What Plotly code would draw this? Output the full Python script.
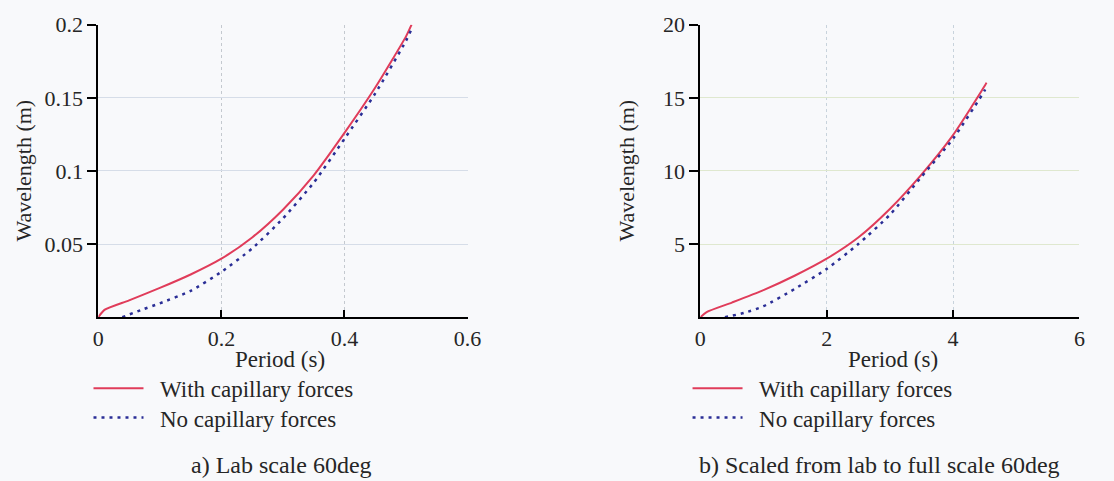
import plotly.graph_objects as go

# ---- Data ----
# a) Lab scale
lab_period_cap = [0.0, 0.01, 0.05, 0.10, 0.15, 0.20, 0.25, 0.30, 0.35, 0.40, 0.45, 0.50, 0.509]
lab_wl_cap = [0.0, 0.005, 0.0115, 0.0200, 0.0292, 0.040, 0.0545, 0.0735, 0.097, 0.126, 0.157, 0.192, 0.200]
lab_period_nocap = [0.039, 0.07, 0.10, 0.15, 0.20, 0.25, 0.30, 0.35, 0.40, 0.45, 0.50, 0.509]
lab_wl_nocap = [0.0, 0.005, 0.0095, 0.018, 0.031, 0.047, 0.0675, 0.092, 0.122, 0.153, 0.189, 0.197]

# b) Scaled to full scale
full_period_cap = [0.0, 0.1, 0.5, 1.0, 1.5, 2.0, 2.5, 3.0, 3.5, 4.0, 4.5, 4.53]
full_wl_cap = [0.0, 0.35, 1.0, 1.85, 2.85, 4.0, 5.45, 7.4, 9.75, 12.45, 15.8, 16.04]
full_period_nocap = [0.39, 0.7, 1.0, 1.5, 2.0, 2.5, 3.0, 3.5, 4.0, 4.5, 4.53]
full_wl_nocap = [0.0, 0.3, 0.75, 1.95, 3.3, 5.0, 7.0, 9.6, 12.2, 15.5, 15.8]

lab_xticks = [0, 0.2, 0.4, 0.6]
lab_xtext = ["0", "0.2", "0.4", "0.6"]
lab_yticks = [0.05, 0.1, 0.15, 0.2]
lab_ytext = ["0.05", "0.1", "0.15", "0.2"]
full_xticks = [0, 2, 4, 6]
full_xtext = ["0", "2", "4", "6"]
full_yticks = [5, 10, 15, 20]
full_ytext = ["5", "10", "15", "20"]

names = ["With capillary forces", "No capillary forces"]
captions = ["a) Lab scale 60deg", "b) Scaled from lab to full scale 60deg"]
x_title = "Period (s)"
y_title = "Wavelength (m)"

RED = "#e03c5a"
BLUE = "#2a2e96"
FONT = "Liberation Serif"
TXT = "#262626"
BG = "#f8f9fb"

W, H = 1114, 481

def px_x(p):
    return p / W

def px_y(p):
    return 1 - p / H

PAD = "\u00a0\u00a0"

fig = go.Figure()

fig.add_trace(go.Scatter(x=lab_period_cap, y=lab_wl_cap, mode="lines", name=PAD + names[0],
                         line=dict(color=RED, width=2, shape="spline", smoothing=0.6),
                         xaxis="x", yaxis="y", legend="legend"))
fig.add_trace(go.Scatter(x=lab_period_nocap, y=lab_wl_nocap, mode="lines", name=PAD + names[1],
                         line=dict(color=BLUE, width=2.5, dash="3px,5px", shape="spline", smoothing=0.6),
                         xaxis="x", yaxis="y", legend="legend2"))
fig.add_trace(go.Scatter(x=full_period_cap, y=full_wl_cap, mode="lines", name=PAD + names[0],
                         line=dict(color=RED, width=2, shape="spline", smoothing=0.6),
                         xaxis="x2", yaxis="y2", legend="legend3"))
fig.add_trace(go.Scatter(x=full_period_nocap, y=full_wl_nocap, mode="lines", name=PAD + names[1],
                         line=dict(color=BLUE, width=2.5, dash="3px,5px", shape="spline", smoothing=0.6),
                         xaxis="x2", yaxis="y2", legend="legend4"))

ydom = [px_y(313), px_y(13)]
tickfont = dict(family=FONT, size=22, color=TXT)

def xax(gridcolor):
    return dict(showline=True, linecolor="black", linewidth=2, ticks="inside", ticklen=7, tickwidth=2,
                tickcolor="black", showgrid=True, gridcolor=gridcolor, griddash="dot", gridwidth=1,
                zeroline=False, tickfont=tickfont)

def yax(gridcolor):
    return dict(showline=True, linecolor="black", linewidth=2, ticks="outside", ticklen=9, tickwidth=2,
                tickcolor="black", showgrid=True, gridcolor=gridcolor, gridwidth=1,
                zeroline=False, tickfont=tickfont)

legend_font = dict(family=FONT, size=23, color=TXT)

def leg(xp, yp):
    return dict(x=px_x(xp), y=px_y(yp), xanchor="left", yanchor="middle", bgcolor="rgba(0,0,0,0)",
                font=legend_font, tracegroupgap=0, itemwidth=50)

fig.update_layout(
    width=W, height=H,
    margin=dict(l=0, r=0, t=0, b=0),
    paper_bgcolor=BG, plot_bgcolor=BG,
    font=dict(family=FONT, size=22, color=TXT),
    xaxis=dict(domain=[px_x(94), px_x(470)], range=[0, 0.6], tickvals=lab_xticks, ticktext=lab_xtext,
               anchor="y", **xax("#c4c9cf")),
    yaxis=dict(domain=ydom, range=[0, 0.2], tickvals=lab_yticks, ticktext=lab_ytext, anchor="x",
               **yax("#d6dde8")),
    xaxis2=dict(domain=[px_x(707), px_x(1093)], range=[0, 6], tickvals=full_xticks, ticktext=full_xtext,
                anchor="y2", **xax("#c8d3dc")),
    yaxis2=dict(domain=ydom, range=[0, 20], tickvals=full_yticks, ticktext=full_ytext, anchor="x2",
                **yax("#dfe8cf")),
    legend=leg(84, 386),
    legend2=leg(84, 416),
    legend3=leg(694, 386),
    legend4=leg(694, 416),
    showlegend=True,
)

annots = [
    dict(x=px_x(279), y=px_y(356), text=x_title, size=23),
    dict(x=px_x(903), y=px_y(356), text=x_title, size=23),
    dict(x=px_x(281), y=px_y(465), text=captions[0], size=24),
    dict(x=px_x(889), y=px_y(465), text=captions[1], size=24),
]
for a in annots:
    size = a.pop("size")
    fig.add_annotation(xref="paper", yref="paper", showarrow=False, xanchor="center", yanchor="middle",
                       font=dict(family=FONT, size=size, color=TXT), **a)
for xp in (18, 632):
    fig.add_annotation(xref="paper", yref="paper", x=px_x(xp), y=px_y(163), text=y_title, textangle=-90,
                       showarrow=False, xanchor="center", yanchor="middle",
                       font=dict(family=FONT, size=22, color=TXT))

fig.write_html("out.html")
